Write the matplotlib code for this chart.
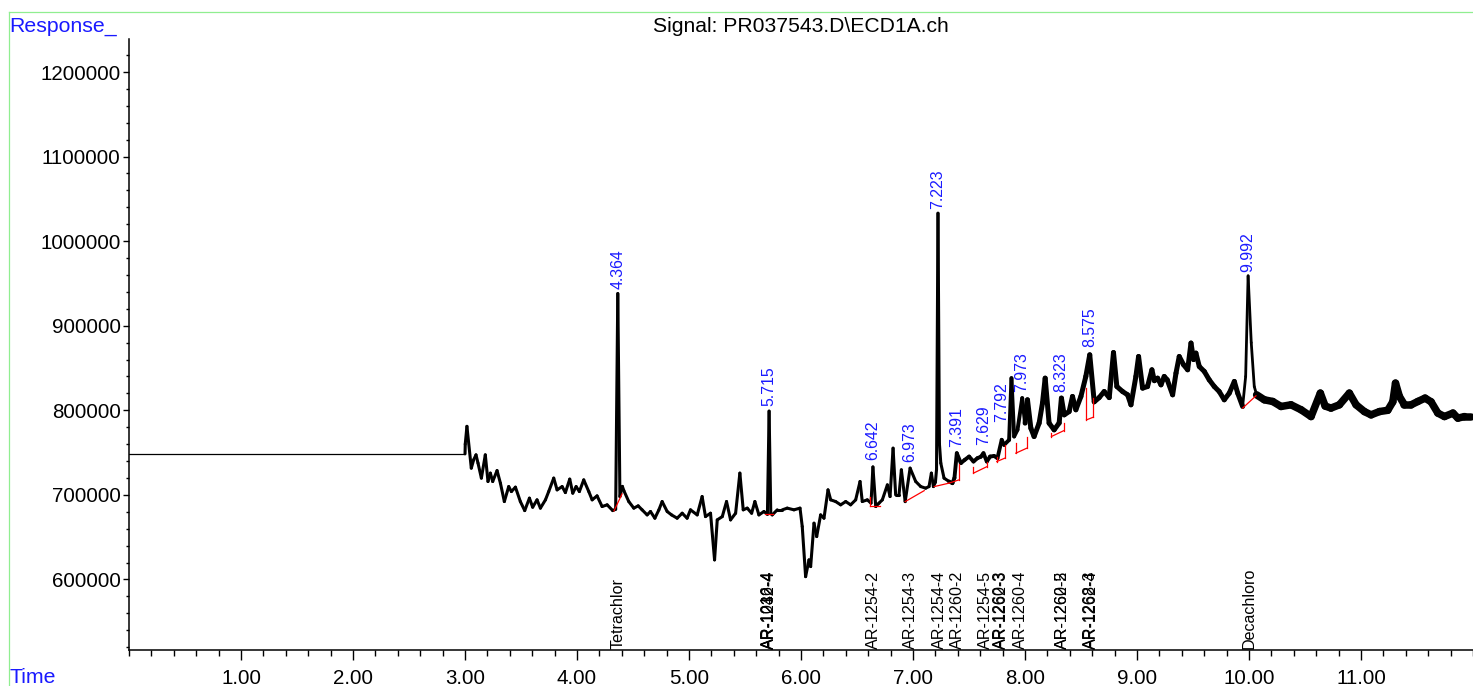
import numpy as np
import matplotlib
matplotlib.use("Agg")
import matplotlib.pyplot as plt
from matplotlib.collections import LineCollection
from matplotlib.lines import Line2D
from matplotlib.ticker import MultipleLocator, FixedLocator, FuncFormatter

plt.rcParams['font.family'] = ['Liberation Sans', 'DejaVu Sans']

TITLE = "Signal: PR037543.D\\ECD1A.ch"

# detector trace (min, response)
time_min = [
    0.000, 3.000, 3.002, 3.017, 3.056, 3.077, 3.098, 3.116, 3.146, 3.181,
    3.205, 3.226, 3.247, 3.286, 3.316, 3.351, 3.390, 3.414, 3.450, 3.494,
    3.533, 3.575, 3.604, 3.643, 3.673, 3.718, 3.747, 3.792, 3.822, 3.867,
    3.896, 3.935, 3.962, 3.992, 4.021, 4.060, 4.105, 4.135, 4.179, 4.224,
    4.269, 4.319, 4.345, 4.364, 4.383, 4.405, 4.418, 4.462, 4.507, 4.546,
    4.581, 4.626, 4.656, 4.695, 4.731, 4.760, 4.805, 4.844, 4.894, 4.939,
    4.983, 5.013, 5.073, 5.117, 5.147, 5.192, 5.228, 5.252, 5.297, 5.335,
    5.371, 5.416, 5.454, 5.484, 5.520, 5.559, 5.588, 5.624, 5.669, 5.700,
    5.715, 5.730, 5.743, 5.788, 5.833, 5.877, 5.937, 5.991, 6.011, 6.041,
    6.071, 6.086, 6.116, 6.140, 6.175, 6.205, 6.241, 6.265, 6.309, 6.354,
    6.399, 6.443, 6.488, 6.527, 6.547, 6.592, 6.625, 6.642, 6.667, 6.696,
    6.726, 6.771, 6.795, 6.822, 6.845, 6.875, 6.896, 6.930, 6.974, 7.024,
    7.069, 7.113, 7.143, 7.164, 7.182, 7.200, 7.210, 7.223, 7.236, 7.248,
    7.277, 7.322, 7.352, 7.370, 7.391, 7.427, 7.462, 7.501, 7.540, 7.575,
    7.605, 7.629, 7.659, 7.688, 7.724, 7.754, 7.792, 7.813, 7.858, 7.879,
    7.903, 7.933, 7.975, 8.001, 8.022, 8.052, 8.081, 8.126, 8.156, 8.180,
    8.215, 8.260, 8.305, 8.325, 8.350, 8.394, 8.424, 8.454, 8.499, 8.543,
    8.578, 8.618, 8.662, 8.707, 8.752, 8.790, 8.820, 8.871, 8.916, 8.946,
    8.990, 9.014, 9.050, 9.094, 9.133, 9.155, 9.184, 9.214, 9.243, 9.270,
    9.318, 9.348, 9.377, 9.416, 9.452, 9.482, 9.505, 9.526, 9.556, 9.601,
    9.645, 9.690, 9.734, 9.779, 9.824, 9.869, 9.899, 9.943, 9.970, 9.992,
    10.020, 10.047, 10.068, 10.137, 10.212, 10.286, 10.375, 10.465, 10.554, 10.637,
    10.680, 10.732, 10.807, 10.896, 10.956, 11.030, 11.090, 11.165, 11.239, 11.284,
    11.308, 11.343, 11.388, 11.448, 11.507, 11.572, 11.626, 11.686, 11.745, 11.821,
    11.865, 11.924, 11.984,
]
response = [
    748500, 748500, 760000, 781000, 731600, 741400, 747300, 737500, 719800, 747300,
    715800, 725700, 715800, 728700, 713800, 692100, 709800, 703900, 709100, 692100,
    681400, 696100, 685400, 694100, 684300, 694100, 703900, 719800, 705900, 709800,
    702700, 718600, 702000, 709800, 703900, 717700, 703900, 694100, 698800, 686200,
    688200, 681400, 683000, 938000, 698000, 710000, 705000, 692100, 684300, 687000,
    682300, 676300, 680300, 672400, 682300, 692100, 680300, 676300, 672400, 678300,
    672400, 682300, 676300, 698000, 674300, 678300, 623100, 670400, 674300, 692100,
    670400, 678300, 725700, 682300, 684300, 678300, 692100, 676300, 680300, 677000,
    799000, 678000, 676300, 682300, 682300, 684300, 682300, 684300, 662500, 603300,
    623100, 615200, 666500, 650700, 676300, 672400, 705900, 694100, 692100, 688200,
    692100, 688200, 694100, 715800, 692100, 694100, 690200, 733000, 686200, 690200,
    694100, 711800, 698000, 755200, 700000, 700000, 729600, 692000, 731600, 715800,
    709800, 707900, 709800, 725700, 709800, 715000, 730000, 1033000, 760000, 737500,
    719800, 715800, 713800, 720000, 749300, 737500, 741400, 745300, 739400, 743400,
    745000, 749300, 739400, 745300, 746000, 743400, 765100, 759100, 765000, 838000,
    769000, 776900, 814400, 784800, 812400, 778900, 769000, 784800, 808500, 838000,
    784800, 776900, 785000, 814400, 794600, 798500, 816300, 800600, 816300, 840000,
    865600, 810000, 815000, 822200, 815000, 868300, 828100, 822200, 818300, 806500,
    840000, 863600, 826200, 828100, 847900, 835000, 838000, 830100, 840000, 836000,
    818300, 843900, 863600, 853800, 847900, 879500, 860000, 867600, 851800, 845900,
    836000, 828100, 822200, 812400, 820300, 834100, 820300, 804500, 840000, 959000,
    880000, 828100, 818300, 812400, 810400, 804500, 806500, 800600, 792600, 820300,
    805000, 802600, 806500, 820300, 806500, 798500, 794600, 798500, 800000, 810000,
    832100, 816300, 806500, 806500, 810400, 814400, 810000, 796700, 792600, 796700,
    790700, 792600, 792600,
]

# integrated peaks: retention time, label anchor height
peak_rt = [4.364, 5.715, 6.642, 6.973, 7.223, 7.391, 7.629, 7.792, 7.973, 8.323, 8.575, 9.992]
peak_label_y = [943700, 805300, 741400, 739400, 1038000, 757100, 759200, 786700,
                822200, 822200, 875000, 963800]

# baselines (start t, start y, end t, end y)
base_t0 = [4.330, 5.676, 6.620, 6.930, 7.190, 7.320, 7.540, 7.748, 7.918, 8.236, 8.549, 9.943]
base_y0 = [681000, 677000, 686500, 692000, 709800, 713800, 725700, 739400, 749300, 769000, 788700, 802600]
base_t1 = [4.402, 5.751, 6.705, 7.100, 7.320, 7.410, 7.659, 7.820, 8.016, 8.349, 8.611, 10.062]
base_y1 = [701100, 677000, 686500, 705000, 713800, 717700, 733300, 743400, 755200, 776100, 791900, 817100]
# drop lines at baseline ends (top of line), None = no drop
drop_top0 = [None, None, 697000, None, None, None, 733500, 745000, 761400, 773000, 826200, None]
drop_top1 = [None, None, None, None, None, 737000, 739400, 759000, 769000, 785000, 814400, None]

# compound names at expected retention times
cmp_rt = [4.366, 5.712, 5.715, 5.718, 6.643, 6.979, 7.232, 7.396, 7.650,
          7.782, 7.786, 7.962, 8.332, 8.336, 8.586, 8.590, 10.003]
cmp_name = ["Tetrachlor", "AR-1016-4", "AR-1232-4", "AR-1242-4", "AR-1254-2",
            "AR-1254-3", "AR-1254-4", "AR-1260-2", "AR-1254-5", "AR-1260-3",
            "AR-1262-3", "AR-1260-4", "AR-1260-5", "AR-1262-2", "AR-1268-3",
            "AR-1262-4", "Decachloro"]

BLUE = '#1a1aff'

fig = plt.figure(figsize=(14.73, 6.86), dpi=100)
ax = fig.add_axes([0.0876, 0.0518, 0.9124, 0.8913])

t = np.array(time_min)
r = np.array(response)
pts = np.column_stack([t, r]).reshape(-1, 1, 2)
segs = np.concatenate([pts[:-1], pts[1:]], axis=1)
mid = 0.5 * (t[:-1] + t[1:])
# noise band grows along the run
lw = np.select([mid < 3.0, mid < 7.3, mid < 8.0, mid < 9.95, mid < 10.07],
               [0.9, 2.2, 2.8, 3.6, 2.0], default=5.4)
lc = LineCollection(segs, colors='black', linewidths=lw, capstyle='round', joinstyle='round')
ax.add_collection(lc)

for i in range(len(peak_rt)):
    ax.plot([base_t0[i], base_t1[i]], [base_y0[i], base_y1[i]], color='red', lw=0.9, zorder=3)
    if drop_top0[i] is not None:
        ax.plot([base_t0[i]] * 2, [base_y0[i], drop_top0[i]], color='red', lw=0.9, zorder=3)
    if drop_top1[i] is not None:
        ax.plot([base_t1[i]] * 2, [base_y1[i], drop_top1[i]], color='red', lw=0.9, zorder=3)
    ax.text(peak_rt[i], peak_label_y[i], f"{peak_rt[i]:.3f}", rotation=90,
            ha='center', va='bottom', color=BLUE, fontsize=11.4)

trans = ax.get_xaxis_transform()
for x, name in zip(cmp_rt, cmp_name):
    ax.text(x, 0.002, name, transform=trans, rotation=90, ha='center',
            va='bottom', color='black', fontsize=11.6)

ax.set_xlim(0, 12.0)
ax.set_ylim(516000, 1239000)
ax.xaxis.set_major_locator(FixedLocator(np.arange(1, 12)))
ax.xaxis.set_major_formatter(FuncFormatter(lambda v, p: f"{v:.2f}"))
ax.xaxis.set_minor_locator(MultipleLocator(0.2))
ax.yaxis.set_major_locator(FixedLocator([600000, 700000, 800000, 900000,
                                         1000000, 1100000, 1200000]))
ax.yaxis.set_major_formatter(FuncFormatter(lambda v, p: f"{v:.0f}"))
ax.yaxis.set_minor_locator(MultipleLocator(20000))
ax.tick_params(axis='x', which='major', length=7, width=1, labelsize=14.8, pad=6)
ax.tick_params(axis='x', which='minor', length=4, width=1)
ax.tick_params(axis='y', which='major', length=4, width=1, labelsize=14.8, pad=2)
ax.tick_params(axis='y', which='minor', length=2, width=1)
for s in ['top', 'right']:
    ax.spines[s].set_visible(False)
for s in ['left', 'bottom']:
    ax.spines[s].set_linewidth(1.1)

fig.text(0.5438, 1 - 27 / 686, TITLE, ha='center', va='center', fontsize=15.2)
fig.text(9.5 / 1473, 1 - 31.5 / 686, "Response_", color=BLUE, fontsize=15.3,
         ha='left', va='baseline')
fig.text(9.5 / 1473, 1 - 683 / 686, "Time", color=BLUE, fontsize=15.3,
         ha='left', va='baseline')

# light green frame of the report page
fig.add_artist(Line2D([9 / 1473, 1.0], [1 - 12 / 686] * 2, color='#90ee90', lw=0.9))
fig.add_artist(Line2D([9 / 1473] * 2, [0, 1 - 12 / 686], color='#90ee90', lw=0.9))

fig.savefig("out.png", dpi=100)
